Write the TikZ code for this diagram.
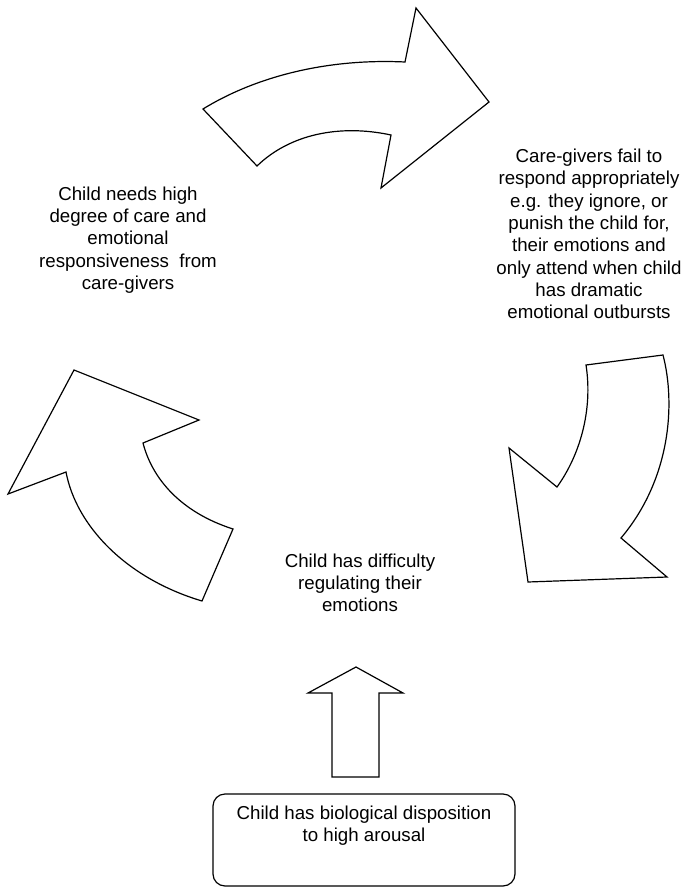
\documentclass[tikz,border=0pt]{standalone}
\usepackage{fontspec}
\setmainfont{Liberation Sans}
\usetikzlibrary{positioning}

\begin{document}
\begin{tikzpicture}[
    x=1pt, y=-1pt,
    cycleText/.style={
        align=center,
        inner sep=0pt,
        font=\fontsize{18.7pt}{22.3pt}\selectfont
    },
    blockArrow/.style={
        draw=black,
        fill=white,
        line width=1.2pt,
        line join=miter
    },
    originBox/.style={
        rectangle,
        draw=black,
        line width=1.2pt,
        rounded corners=12pt,
        minimum width=302pt,
        minimum height=92pt
    }
]
\useasboundingbox (0,0) rectangle (693,888);

% ==================== CYCLE TEXTS ====================
\node[cycleText] (txtNeeds) at (128,240) {Child needs high\\degree of care and\\emotional\\responsiveness\ \ from\\care-givers};
\node[cycleText] (txtFail) at (589,234) {Care-givers fail to\\respond appropriately\\e.g. they ignore, or\\punish the child for,\\their emotions and\\only attend when child\\has dramatic\\emotional outbursts};
\node[cycleText] (txtRegulate) at (360,583) {Child has difficulty\\regulating their\\emotions};

% ==================== CYCLE ARROWS ====================
% needs -> fail
\draw[blockArrow] (203,109) .. controls (250,80) and (320,58) .. (405,62)
    -- (416,8) -- (489,102) -- (381,188) -- (391,135)
    .. controls (340,124) and (290,134) .. (257,166) -- cycle;
% fail -> regulate
\draw[blockArrow] (586,365) -- (663,355)
    .. controls (676,405) and (670,480) .. (621,538)
    -- (667,577) -- (528,582) -- (509,448) -- (557,487)
    .. controls (580,455) and (593,410) .. (586,365) -- cycle;
% regulate -> needs
\draw[blockArrow] (202,601) -- (233,529)
    .. controls (180,512) and (152,478) .. (143,443)
    -- (199,420) -- (74,370) -- (8,494) -- (66,472)
    .. controls (76,525) and (125,578) .. (202,601) -- cycle;

% ==================== DISPOSITION ====================
\node[originBox] (boxDisposition) at (364,840) {};
\node[cycleText, below=12pt of boxDisposition.north] (txtDisposition) {Child has biological disposition\\to high arousal};

\draw[blockArrow] (356,667) -- (403,693) -- (379,693) -- (379,777)
    -- (332,777) -- (332,693) -- (308,693) -- cycle;

\end{tikzpicture}
\end{document}
